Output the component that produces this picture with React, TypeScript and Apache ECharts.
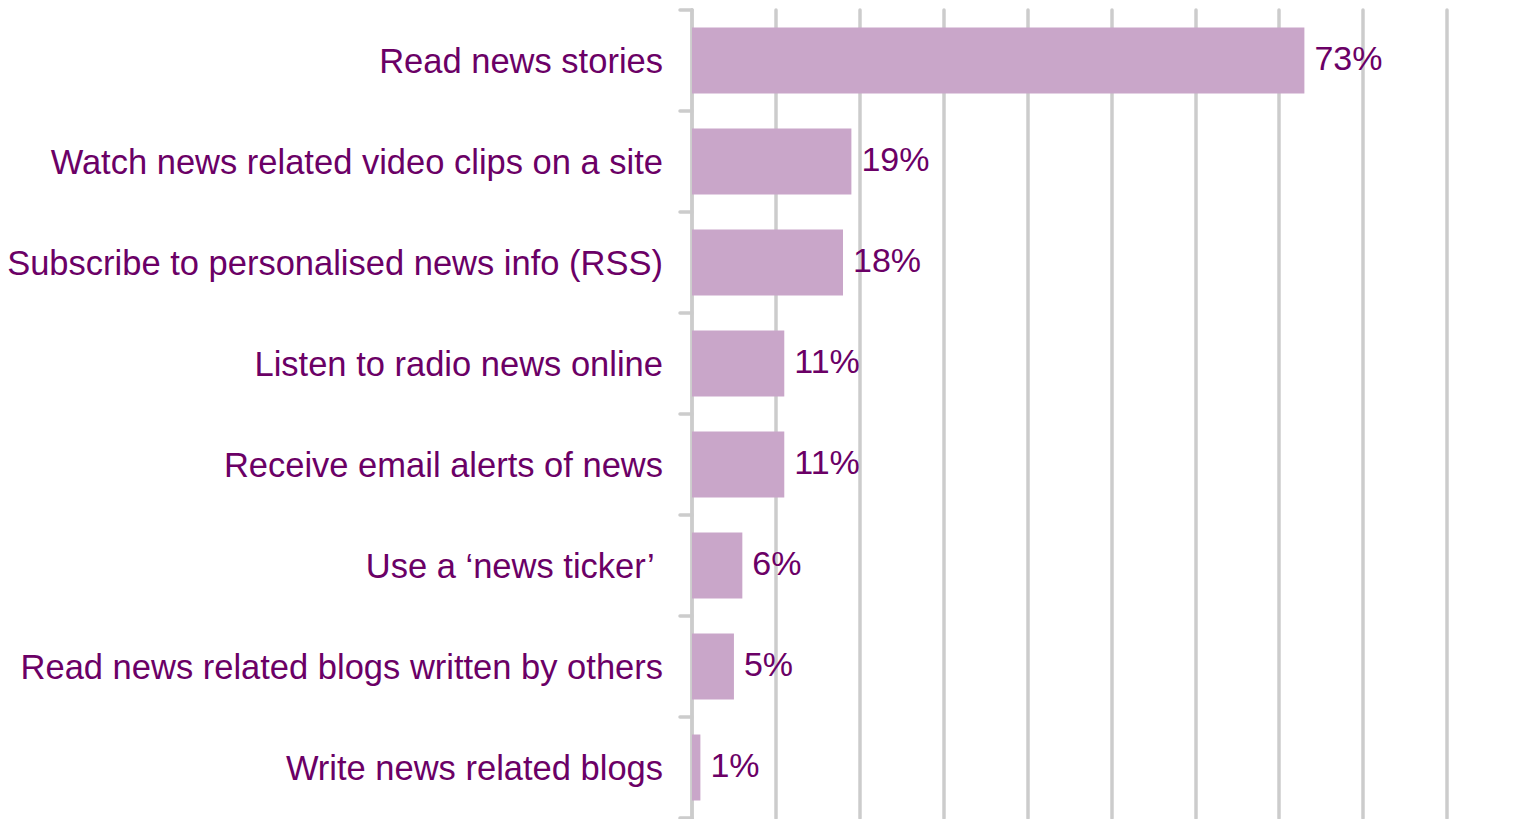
import React, { useEffect, useRef } from "react";
import * as echarts from "echarts";

const categories = [
  "Read news stories",
  "Watch news related video clips on a site",
  "Subscribe to personalised news info (RSS)",
  "Listen to radio news online",
  "Receive email alerts of news",
  "Use a \u2018news ticker\u2019 ",
  "Read news related blogs written by others",
  "Write news related blogs",
];
const values = [73, 19, 18, 11, 11, 6, 5, 1];
const axisMin = 0;
const axisMax = 90;
const axisInterval = 10;

const TEXT = "#6B0066";
const BAR = "#C9A6C9";
const GRID = "#CCCCCC";
const FONT = "'Liberation Sans', Arial, sans-serif";

export default function App() {
  const ref = useRef<HTMLDivElement>(null);
  useEffect(() => {
    if (!ref.current) return;
    const chart = echarts.init(ref.current, null, { renderer: "svg" });
    chart.setOption({
      animation: false,
      backgroundColor: "#ffffff",
      grid: { left: 692, right: 71, top: 10, bottom: 1, containLabel: false },
      xAxis: {
        type: "value",
        min: axisMin,
        max: axisMax,
        interval: axisInterval,
        axisLabel: { show: false },
        axisLine: { show: false },
        axisTick: { show: false },
        splitLine: { show: true, lineStyle: { color: GRID, width: 3.5, cap: "round" } },
      },
      yAxis: {
        type: "category",
        inverse: true,
        data: categories,
        axisLine: { show: true, lineStyle: { color: GRID, width: 3.5, cap: "round" } },
        axisTick: { show: true, length: 12, lineStyle: { color: GRID, width: 3.5, cap: "round" } },
        axisLabel: {
          margin: 29,
          color: TEXT,
          fontSize: 34.5,
          fontFamily: FONT,
        },
      },
      series: [
        {
          type: "bar",
          data: values,
          barWidth: 66,
          itemStyle: { color: BAR },
          label: {
            show: true,
            position: "right",
            distance: 10,
            formatter: "{c}%",
            color: TEXT,
            fontSize: 34,
            fontFamily: FONT,
            offset: [0, -3],
          },
        },
      ],
    });
    return () => chart.dispose();
  }, []);
  return (
    <div
      ref={ref}
      style={{ position: "absolute", left: 0, top: 0, width: 1518, height: 819 }}
    />
  );
}
